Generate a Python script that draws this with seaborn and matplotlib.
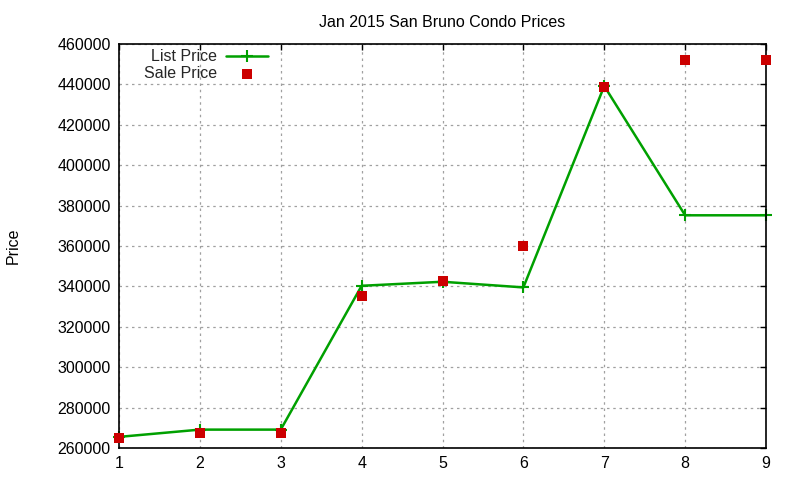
import matplotlib
matplotlib.use("Agg")
import matplotlib.pyplot as plt
import matplotlib.ticker as mticker
import seaborn as sns
import pandas as pd

# Data
index = [1, 2, 3, 4, 5, 6, 7, 8, 9]
list_price = [265500, 269100, 269100, 340300, 342300, 339500, 439200, 375200, 375200]
sale_price = [265000, 267300, 267300, 335400, 342600, 360100, 438800, 452200, 452200]
title = "Jan 2015 San Bruno Condo Prices"
y_label = "Price"
y_ticks = list(range(260000, 460001, 20000))
x_ticks = index

df = pd.DataFrame({"idx": index, "list": list_price, "sale": sale_price})

sns.set_style("white")
plt.rcParams["font.family"] = ["Liberation Sans", "DejaVu Sans"]
plt.rcParams["font.size"] = 11.5

FS = 11.5
GREEN = "#00a000"
RED = "#cc0000"

fig = plt.figure(figsize=(8, 4.8), dpi=100)
ax = fig.add_axes([119 / 800, 1 - 448 / 480, (766 - 119) / 800, (448 - 44) / 480])

sns.lineplot(data=df, x="idx", y="list", ax=ax, color=GREEN, linewidth=1.8,
             marker="+", markersize=8, markeredgewidth=1.5,
             markeredgecolor=GREEN, markerfacecolor=GREEN,
             label="List Price", clip_on=False)
sns.scatterplot(data=df, x="idx", y="sale", ax=ax, color=RED, marker="s",
                s=42, linewidth=0, label="Sale Price", clip_on=False, zorder=5)

ax.set_xlim(1, 9)
ax.set_ylim(260000, 460000)
ax.set_xticks(x_ticks)
ax.set_yticks(y_ticks)
ax.yaxis.set_major_formatter(mticker.FuncFormatter(lambda v, p: f"{int(v)}"))
ax.xaxis.set_major_formatter(mticker.FuncFormatter(lambda v, p: f"{int(v)}"))

ax.grid(True, color="#a0a0a0", linestyle=(0, (2, 3)), linewidth=0.9)
ax.set_axisbelow(True)
for s in ax.spines.values():
    s.set_color("black")
    s.set_linewidth(1.2)
ax.tick_params(axis="both", direction="in", length=4, width=1, color="black",
               top=True, right=True, labelsize=FS, labelcolor="black", pad=6)

ax.set_xlabel("")
ax.set_ylabel(y_label, fontsize=FS, color="black")
ax.yaxis.set_label_coords(-0.152, 0.5)
ax.set_title(title, fontsize=FS, color="black", pad=12)

leg = ax.legend(loc="upper left", bbox_to_anchor=(0.021, 1.015), frameon=False,
                markerfirst=False, handlelength=2.6, labelspacing=0.1,
                fontsize=FS, handletextpad=0.6, borderaxespad=0.3)

fig.savefig("out.png", dpi=100)
